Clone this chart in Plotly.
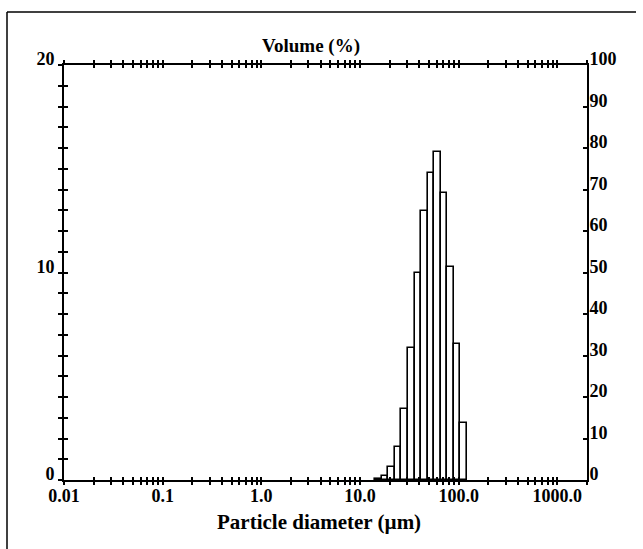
import numpy as np
import plotly.graph_objects as go

# ---- data ----
bin_edges_um = [14.3, 16.7, 19.4, 22.6, 26.3, 30.7, 35.7, 41.6, 48.5, 56.5,
                65.8, 76.7, 89.3, 104.1, 121.3]
volume_pct = [0.05, 0.2, 0.64, 1.58, 3.41, 6.35, 9.96, 12.98, 14.81, 15.82,
              13.82, 10.28, 6.54, 2.73]
x_major_um = [0.01, 0.1, 1, 10, 100, 1000]
x_major_labels = ["0.01", "0.1", "1.0", "10.0", "100.0", "1000.0"]
x_max_um = 2000
y_left_max = 20
y_left_labels = {0: "0", 10: "10", 20: "20"}
y_right_max = 100
y_right_step = 10

# ---- geometry ----
W, H = 643, 549
L, R, T, B = 64, 56, 65, 69
pw, ph = W - L - R, H - T - B

le = np.log10(bin_edges_um)
centers = (le[:-1] + le[1:]) / 2
widths = le[1:] - le[:-1]

# log-decade tick positions
tick_um = []
for n in range(-2, 4):
    for k in range(1, 10):
        v = k * 10.0 ** n
        if v <= x_max_um * 1.0001:
            tick_um.append(v)
tick_pos = [float(np.log10(v)) for v in tick_um]
tick_txt = []
for v in tick_um:
    lab = ""
    for m, t in zip(x_major_um, x_major_labels):
        if abs(v - m) / m < 1e-6:
            lab = t
    tick_txt.append(lab)

xr = [np.log10(x_major_um[0]), np.log10(x_max_um)]
yl_vals = list(range(0, y_left_max + 1))
yl_txt = [y_left_labels.get(v, "") for v in yl_vals]
yr_vals = list(range(0, y_right_max + 1, y_right_step))

FONT = "Liberation Serif"
tickfont = dict(family=FONT, size=18, color="black", weight="bold")

fig = go.Figure()
fig.add_trace(go.Bar(x=centers, y=volume_pct, width=widths,
                     marker=dict(color="white", line=dict(color="black", width=1.6)),
                     xaxis="x", yaxis="y", showlegend=False, hoverinfo="skip"))
fig.add_trace(go.Scatter(x=[], y=[], xaxis="x2", yaxis="y", showlegend=False))
fig.add_trace(go.Scatter(x=[], y=[], xaxis="x", yaxis="y2", showlegend=False))
fig.add_trace(go.Scatter(x=[], y=[], xaxis="x", yaxis="y3", showlegend=False))

common_x = dict(range=xr, tickmode="array", tickvals=tick_pos, showgrid=False,
                zeroline=False, tickcolor="black", tickwidth=1.5, ticklen=3)
fig.update_layout(
    width=W, height=H,
    margin=dict(l=L, r=R, t=T, b=B, pad=0),
    paper_bgcolor="white", plot_bgcolor="white",
    bargap=0,
    xaxis=dict(**common_x, ticktext=tick_txt, ticks="outside", mirror="ticks",
               showline=True, linecolor="black", linewidth=2, tickfont=tickfont,
               anchor="y", ticklabelstandoff=-5),
    xaxis2=dict(**common_x, ticktext=[""] * len(tick_pos), ticks="inside",
                mirror="ticks", showline=False, showticklabels=False,
                overlaying="x", anchor="y", side="bottom"),
    yaxis=dict(range=[0, y_left_max], tickmode="array", tickvals=yl_vals,
               ticktext=yl_txt, ticks="outside", ticklen=4, tickwidth=1.5,
               tickcolor="black", showline=True, linecolor="black", linewidth=2,
               showgrid=False, zeroline=False, tickfont=tickfont, side="left",
               ticklabelshift=-6, anchor="x"),
    yaxis3=dict(range=[0, y_left_max], tickmode="array", tickvals=yl_vals,
                ticks="inside", ticklen=4, tickwidth=1.5, tickcolor="black",
                showline=False, showgrid=False, zeroline=False,
                showticklabels=False, overlaying="y", side="left", anchor="x"),
    yaxis2=dict(range=[0, y_right_max], tickmode="array", tickvals=yr_vals,
                ticks="inside", ticklen=4, tickwidth=1.5, tickcolor="black",
                showline=True, linecolor="black", linewidth=2, showgrid=False,
                zeroline=False, tickfont=tickfont, side="right",
                overlaying="y", anchor="x", ticklabelshift=-6,
                ticklabelstandoff=-3),
)

fig.add_annotation(text="Volume (%)", xref="paper", yref="paper",
                   x=(311 - L) / pw, y=1, yanchor="bottom", yshift=6,
                   showarrow=False,
                   font=dict(family=FONT, size=19, color="black", weight="bold"))
fig.add_annotation(text="Particle diameter (µm)", xref="paper", yref="paper",
                   x=(319 - L) / pw, y=0, yanchor="top", yshift=-28,
                   showarrow=False,
                   font=dict(family=FONT, size=21, color="black", weight="bold"))

# outer frame (left and top edges)
def px(xp):
    return (xp - L) / pw

def py(yp):
    return (H - B - yp) / ph

fig.add_shape(type="line", xref="paper", yref="paper", x0=px(7), x1=px(7),
              y0=py(12), y1=py(H), line=dict(color="black", width=1.5))
fig.add_shape(type="line", xref="paper", yref="paper", x0=px(7), x1=px(636),
              y0=py(12), y1=py(12), line=dict(color="black", width=1.5))

fig.write_html("out.html",
               config={"displayModeBar": False},
               post_script="document.body.style.margin='0';document.body.style.overflow='hidden';")
